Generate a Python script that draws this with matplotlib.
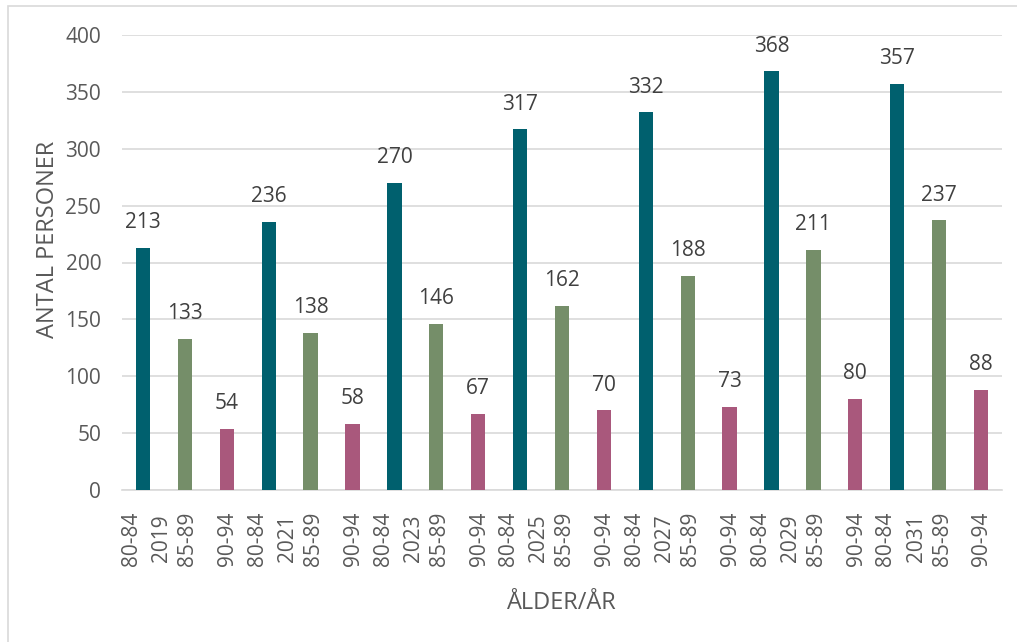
import matplotlib.pyplot as plt
from matplotlib.patches import Rectangle
import numpy as np

plt.rcParams['font.family'] = ['Open Sans', 'DejaVu Sans']

years = ["2019", "2021", "2023", "2025", "2027", "2029", "2031"]
age_groups = ["80-84", "85-89", "90-94"]
v_80_84 = [213, 236, 270, 317, 332, 368, 357]
v_85_89 = [133, 138, 146, 162, 188, 211, 237]
v_90_94 = [54, 58, 67, 70, 73, 80, 88]

colors = ["#00606E", "#758E69", "#A9587C"]

fig = plt.figure(figsize=(10.17, 6.42), dpi=100)
ax = fig.add_axes([122 / 1017, 1 - 490 / 642, (1002 - 122) / 1017, (490 - 35) / 642])

# outer chart border (cut off on right and bottom like the source)
fig.patches.append(Rectangle((8 / 1017, -0.1), 1.2, 1 - 6 / 642 + 0.1,
                             transform=fig.transFigure, fill=False,
                             edgecolor="#D9D9D9", linewidth=1.2))

n = len(years)
for k, vals in enumerate([v_80_84, v_85_89, v_90_94]):
    xs = np.arange(n) * 3 + k
    ax.bar(xs, vals, width=0.34, color=colors[k], zorder=3)
    for x, v in zip(xs, vals):
        ax.text(x, v + 13, str(v), ha="center", va="bottom",
                fontsize=15, color="#404040", clip_on=False)

# flattened two-level category labels, all centred on one line
ticks, labels = [], []
for i, yr in enumerate(years):
    base = i * 3
    ticks += [base - 0.27, base + 0.45, base + 1.07, base + 2.02]
    labels += [age_groups[0], yr, age_groups[1], age_groups[2]]
ax.set_xticks(ticks)
ax.set_xticklabels(labels, rotation=90, fontsize=15, color="#595959",
                   rotation_mode="anchor", ha="center", va="center")
ax.tick_params(axis="x", length=0, pad=35)

ax.set_xlim(-0.5, n * 3 - 0.5)
ax.set_ylim(0, 400)
ax.set_yticks(range(0, 401, 50))
ax.tick_params(axis="y", length=0, labelsize=15, labelcolor="#595959", pad=15)
ax.yaxis.grid(True, color="#D9D9D9", linewidth=1.2, zorder=0)
ax.set_axisbelow(True)

for side in ["top", "right", "left"]:
    ax.spines[side].set_visible(False)
ax.spines["bottom"].set_color("#D9D9D9")
ax.spines["bottom"].set_linewidth(1.2)

ax.set_ylabel("ANTAL PERSONER", fontsize=17, color="#595959", labelpad=4)
ax.yaxis.label.set_y((490 - 239) / 455)
ax.set_xlabel("ÅLDER/ÅR", fontsize=17, color="#595959", labelpad=18)

fig.savefig("out.png", dpi=100)
